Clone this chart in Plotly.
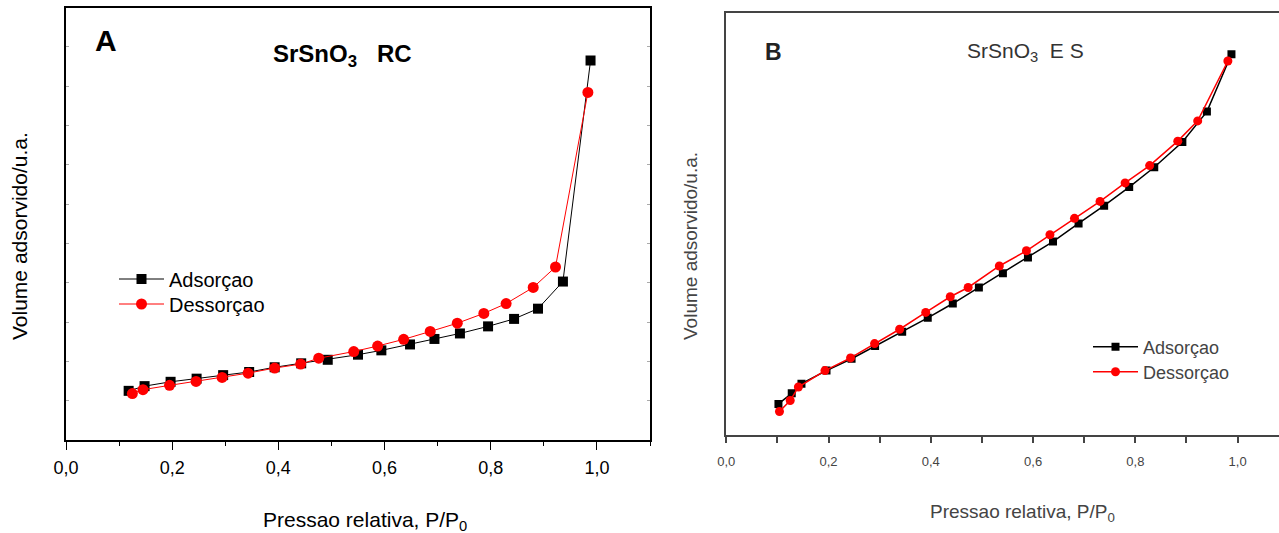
import plotly.graph_objects as go

W, H = 1279, 533

# ---- Panel A: SrSnO3 RC ----
a_ads_x = [0.118, 0.148, 0.197, 0.246, 0.296, 0.345, 0.393, 0.443, 0.493, 0.550,
           0.594, 0.648, 0.694, 0.742, 0.795, 0.844, 0.889, 0.936, 0.988]
a_ads_y = [12.5, 13.7, 14.8, 15.6, 16.5, 17.3, 18.5, 19.5, 20.4, 21.7,
           22.8, 24.3, 25.7, 27.1, 28.9, 30.8, 33.4, 40.3, 96.5]
a_des_x = [0.125, 0.145, 0.195, 0.245, 0.294, 0.343, 0.393, 0.442, 0.476, 0.542,
           0.587, 0.636, 0.686, 0.737, 0.787, 0.829, 0.880, 0.922, 0.983]
a_des_y = [11.8, 12.8, 13.9, 14.9, 15.9, 17.0, 18.3, 19.3, 20.8, 22.5,
           23.9, 25.6, 27.6, 29.7, 32.2, 34.7, 38.8, 44.0, 88.4]

# ---- Panel B: SrSnO3 ES ----
b_ads_x = [0.102, 0.128, 0.147, 0.196, 0.245, 0.291, 0.344, 0.394, 0.443, 0.494,
           0.541, 0.590, 0.639, 0.689, 0.739, 0.788, 0.837, 0.892, 0.940, 0.988]
b_ads_y = [7.3, 9.8, 12.1, 15.2, 18.0, 21.0, 24.4, 27.7, 31.1, 34.9,
           38.3, 42.0, 45.8, 50.1, 54.3, 58.7, 63.4, 69.4, 76.6, 90.2]
b_des_x = [0.104, 0.125, 0.141, 0.193, 0.243, 0.290, 0.339, 0.390, 0.438, 0.473,
           0.534, 0.587, 0.633, 0.681, 0.731, 0.780, 0.828, 0.883, 0.922, 0.981]
b_des_y = [5.5, 8.1, 11.3, 15.2, 18.2, 21.6, 25.0, 29.0, 32.7, 34.9,
           40.0, 43.6, 47.4, 51.3, 55.3, 59.7, 63.8, 69.6, 74.4, 88.6]

x_tick_vals = [0.0, 0.2, 0.4, 0.6, 0.8, 1.0]
x_tick_text = ["0,0", "0,2", "0,4", "0,6", "0,8", "1,0"]
x_minor_vals = [0.1, 0.3, 0.5, 0.7, 0.9, 1.1]

series_names = ["Adsorçao", "Dessorçao"]

FONT = "Liberation Sans, Arial, sans-serif"
GRAY = "#444444"

def px(x):
    return x / W

def py(y):
    return 1 - y / H

fig = go.Figure()

fig.add_trace(go.Scatter(x=a_ads_x, y=a_ads_y, mode="lines+markers", name=series_names[0],
                         line=dict(color="black", width=1),
                         marker=dict(symbol="square", size=10, color="black"),
                         xaxis="x", yaxis="y", legend="legend"))
fig.add_trace(go.Scatter(x=a_des_x, y=a_des_y, mode="lines+markers", name=series_names[1],
                         line=dict(color="red", width=1),
                         marker=dict(symbol="circle", size=11, color="red"),
                         xaxis="x", yaxis="y", legend="legend2"))
fig.add_trace(go.Scatter(x=b_ads_x, y=b_ads_y, mode="lines+markers", name=series_names[0],
                         line=dict(color="black", width=1.5),
                         marker=dict(symbol="square", size=8, color="black"),
                         xaxis="x2", yaxis="y2", legend="legend3"))
fig.add_trace(go.Scatter(x=b_des_x, y=b_des_y, mode="lines+markers", name=series_names[1],
                         line=dict(color="red", width=1.5),
                         marker=dict(symbol="circle", size=9, color="red"),
                         xaxis="x2", yaxis="y2", legend="legend4"))

def leg(x, y, size, color, iw):
    return dict(x=px(x), y=py(y), xanchor="left", yanchor="middle",
                bgcolor="rgba(0,0,0,0)", borderwidth=0, itemwidth=iw,
                font=dict(size=size, family=FONT, color=color))

fig.update_layout(
    template="none",
    width=W, height=H,
    margin=dict(l=0, r=0, t=0, b=0, pad=0),
    paper_bgcolor="white", plot_bgcolor="white",
    font=dict(family=FONT, color="black"),
    xaxis=dict(domain=[px(66), px(650)], range=[0, 1.1], anchor="y", automargin=False,
               showgrid=False, zeroline=False,
               showline=True, linecolor="black", linewidth=2, mirror=True,
               ticks="outside", ticklen=8, tickwidth=1, tickcolor="black",
               tickvals=x_tick_vals, ticktext=x_tick_text,
               tickfont=dict(size=18, family=FONT, color="black"),
               ticklabelstandoff=2,
               minor=dict(tickvals=x_minor_vals, ticks="outside", ticklen=4,
                          tickwidth=1, tickcolor="black", showgrid=False)),
    yaxis=dict(domain=[py(440), py(7.5)], range=[0, 110], anchor="x", automargin=False,
               showgrid=False, zeroline=False,
               showline=True, linecolor="black", linewidth=2, mirror="ticks",
               ticks="inside", ticklen=3, tickwidth=1, tickcolor="#aaaaaa",
               dtick=10, tick0=0, showticklabels=False),
    xaxis2=dict(domain=[px(726.3), 1.0], range=[0, 1.081], anchor="y2", automargin=False,
                showgrid=False, zeroline=False,
                showline=True, linecolor=GRAY, linewidth=2, mirror=True,
                ticks="outside", ticklen=6, tickwidth=1.5, tickcolor=GRAY,
                tickvals=x_tick_vals, ticktext=x_tick_text,
                tickfont=dict(size=13, family=FONT, color=GRAY),
                ticklabelstandoff=8,
                minor=dict(tickvals=x_minor_vals, ticks="outside", ticklen=6,
                           tickwidth=1.5, tickcolor=GRAY, showgrid=False)),
    yaxis2=dict(domain=[py(434.7), py(12.9)], range=[0, 100], anchor="x2", automargin=False,
                showgrid=False, zeroline=False,
                showline=True, linecolor=GRAY, linewidth=2, mirror=False,
                ticks="", showticklabels=False),
    legend=leg(114, 279, 20, "black", 45),
    legend2=leg(114, 304, 20, "black", 45),
    legend3=leg(1088, 347, 18, GRAY, 45),
    legend4=leg(1088, 372, 18, GRAY, 45),
    showlegend=True,
)

annotations = [
    dict(text="<b>A</b>", x=px(106), y=py(40), font=dict(size=30, color="black")),
    dict(text="<b>SrSnO<sub>3</sub>   RC</b>", x=px(342), y=py(56), font=dict(size=24, color="black")),
    dict(text="Pressao relativa, P/P<sub>0</sub>", x=px(365), y=py(521), font=dict(size=21, color="black")),
    dict(text="Volume adsorvido/u.a.", x=px(19), y=py(236), textangle=-90, font=dict(size=21, color="black")),
    dict(text="<b>B</b>", x=px(773), y=py(52), font=dict(size=23, color="#222222")),
    dict(text="SrSnO<sub>3</sub>  E S", x=px(1025), y=py(52), font=dict(size=21, color="#333333")),
    dict(text="Pressao relativa, P/P<sub>0</sub>", x=px(1022), y=py(513), font=dict(size=19, color=GRAY)),
    dict(text="Volume adsorvido/u.a.", x=px(690), y=py(246), textangle=-90, font=dict(size=19, color=GRAY)),
]
for a in annotations:
    a.update(xref="paper", yref="paper", showarrow=False, xanchor="center", yanchor="middle")
    a["font"]["family"] = FONT
fig.update_layout(annotations=annotations)

fig.write_html("out.html")
